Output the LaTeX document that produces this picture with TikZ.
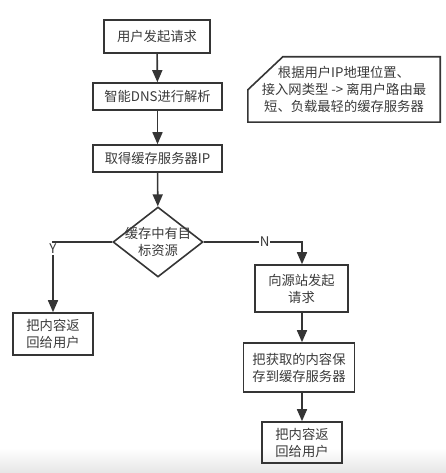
\documentclass[tikz,border=0pt]{standalone}
\usepackage{fontspec}
\setmainfont{Noto Sans CJK SC}
\usetikzlibrary{shapes.geometric,arrows.meta}
\definecolor{linegray}{HTML}{353535}
\definecolor{textgray}{HTML}{3A3A3A}
\tikzset{font=\fontsize{13.3pt}{17pt}\selectfont}
\tikzset{
	box/.style={draw=linegray, line width=1.6pt, align=center, inner sep=0pt, text=textgray},
	decision/.style={diamond, draw=linegray, line width=1.6pt, inner sep=0pt, aspect=1.29},
	flow/.style={draw=linegray, line width=1.6pt, -{Triangle[length=12pt,width=10pt]}},
	tag/.style={fill=white, inner sep=1pt, text=textgray}
}

\begin{document}
\begin{tikzpicture}[x=1pt,y=1pt]
	\useasboundingbox (0,0) rectangle (446,-473);
	\fill[top color=white, bottom color=black!10] (0,-448) rectangle (446,-473);

	\node[box, minimum width=106pt, minimum height=33pt] (req) at (157,-36.5) {用户发起请求};
	\node[box, minimum width=129pt, minimum height=27pt] (dns) at (157.5,-96.5) {智能DNS进行解析};
	\node[box, minimum width=129pt, minimum height=27pt] (getip) at (157.5,-158.5) {取得缓存服务器IP};
	\node[decision, minimum width=90pt, minimum height=70pt,
		label={[align=center, text=textgray]center:缓存中有目\\标资源}] (check) at (158,-242) {};
	\node[box, minimum width=80pt, minimum height=42pt] (hitback) at (53,-334) {把内容返\\回给用户};
	\node[box, minimum width=93pt, minimum height=47pt] (origin) at (301.5,-288.5) {向源站发起\\请求};
	\node[box, minimum width=111pt, minimum height=49pt] (store) at (299,-367.5) {把获取的内容保\\存到缓存服务器};
	\node[box, minimum width=80pt, minimum height=41pt] (missback) at (302,-442.5) {把内容返\\回给用户};

	% note with cut corner
	\node[align=center, text=textgray, minimum width=192pt, minimum height=65pt] (note) at (344,-89.5)
		{根据用户IP地理位置、\\接入网类型 -> 离用户路由最\\短、负载最轻的缓存服务器};
	\draw[linegray, line width=1.6pt] ([xshift=35pt]note.north west) -- (note.north east)
		-- (note.south east) -- (note.south west) -- ([yshift=-33pt]note.north west) -- cycle;

	\draw[flow] (req) -- (dns);
	\draw[flow] (dns) -- (getip);
	\draw[flow] (getip) -- (check);
	\draw[flow] (check.west) -| node[tag, pos=0.55] {Y} (hitback);
	\draw[flow] (check.east) -| node[tag, pos=0.31] {N} (origin.north -| missback);
	\draw[flow] (origin.south -| missback) -- (store.north -| missback);
	\draw[flow] (store.south -| missback) -- (missback);
\end{tikzpicture}
\end{document}
